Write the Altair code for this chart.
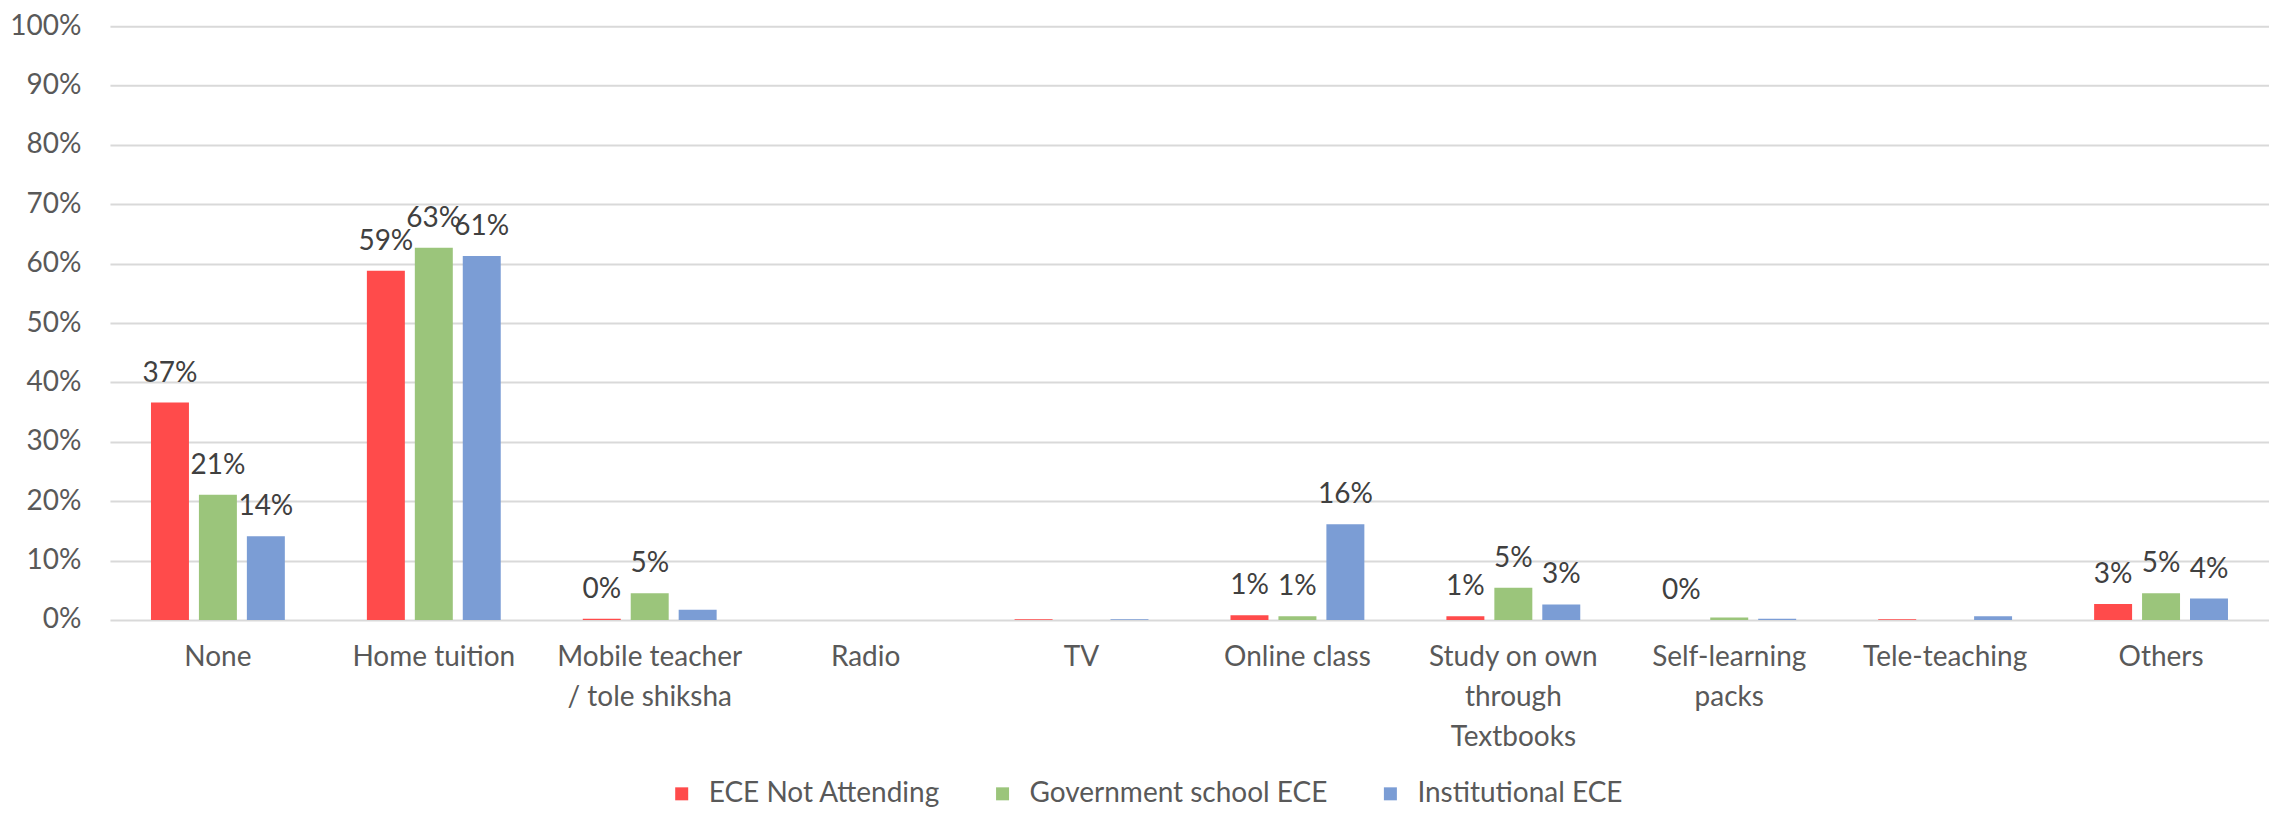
import altair as alt
import pandas as pd

categories = ["None", "Home tuition", "Mobile teacher\n/ tole shiksha", "Radio", "TV",
              "Online class", "Study on own\nthrough\nTextbooks", "Self-learning\npacks",
              "Tele-teaching", "Others"]
series = ["ECE Not Attending", "Government school ECE", "Institutional ECE"]
colors = ["#FF4B4B", "#9BC57B", "#7B9DD5"]

not_attending = [36.6, 58.8, 0.2, 0.0, 0.1, 0.8, 0.6, 0.0, 0.1, 2.7]
government = [21.1, 62.7, 4.5, 0.0, 0.0, 0.6, 5.4, 0.4, 0.0, 4.5]
institutional = [14.1, 61.3, 1.7, 0.0, 0.1, 16.1, 2.6, 0.2, 0.6, 3.6]

labels_not_attending = ["37%", "59%", "0%", "", "", "1%", "1%", "0%", "", "3%"]
labels_government = ["21%", "63%", "5%", "", "", "1%", "5%", "", "", "5%"]
labels_institutional = ["14%", "61%", "", "", "", "16%", "3%", "", "", "4%"]

y_ticks = list(range(0, 101, 10))

rows = []
for s, vals, labs in zip(series,
                         [not_attending, government, institutional],
                         [labels_not_attending, labels_government, labels_institutional]):
    for c, v, l in zip(categories, vals, labs):
        rows.append({"category": c, "series": s, "value": v, "label": l})
df = pd.DataFrame(rows)

FONT = "Lato"

x = alt.X("category:N", sort=categories, title=None,
          scale=alt.Scale(paddingInner=0.38, paddingOuter=0.19),
          axis=alt.Axis(labelExpr="split(datum.value, '\\n')", labelAngle=0,
                        labelFontSize=28, labelColor="#595959", labelFont=FONT,
                        labelLineHeight=40, labelPadding=24, labelLimit=0,
                        ticks=False, domain=False, grid=False))
xo = alt.XOffset("series:N", sort=series,
                 scale=alt.Scale(paddingInner=0.208, paddingOuter=0))
y = alt.Y("value:Q", title=None,
          scale=alt.Scale(domain=[0, 100], nice=False),
          axis=alt.Axis(values=y_ticks, labelExpr="datum.value + '%'",
                        labelFontSize=28, labelColor="#595959", labelFont=FONT,
                        labelPadding=29, ticks=False, domain=False,
                        grid=True, gridColor="#d9d9d9", gridWidth=2))

bars = alt.Chart(df).mark_bar().encode(
    x=x, xOffset=xo, y=y,
    color=alt.Color("series:N", sort=series,
                    scale=alt.Scale(domain=series, range=colors),
                    legend=alt.Legend(title=None, orient="none", direction="horizontal",
                                      legendX=558, legendY=754,
                                      symbolType="square", symbolSize=169,
                                      symbolStrokeWidth=0, labelOffset=13,
                                      columnPadding=48, labelFontSize=28, labelLimit=0,
                                      labelFont=FONT, labelColor="#595959"))
)

texts = alt.Chart(df).mark_text(baseline="middle", dy=-29, fontSize=28,
                                font=FONT, color="#404040").encode(
    x=alt.X("category:N", sort=categories),
    xOffset=alt.XOffset("series:N", sort=series),
    y=alt.Y("value:Q"),
    text="label:N"
)

chart = alt.layer(bars, texts).properties(
    width=2160, height=594,
    autosize=alt.AutoSizeParams(type="none"),
    padding={"left": 102, "top": 18, "right": 0, "bottom": 188},
    background="white"
).configure_view(stroke=None)

chart.save("out.html", embed_options={"renderer": "svg", "actions": False})
